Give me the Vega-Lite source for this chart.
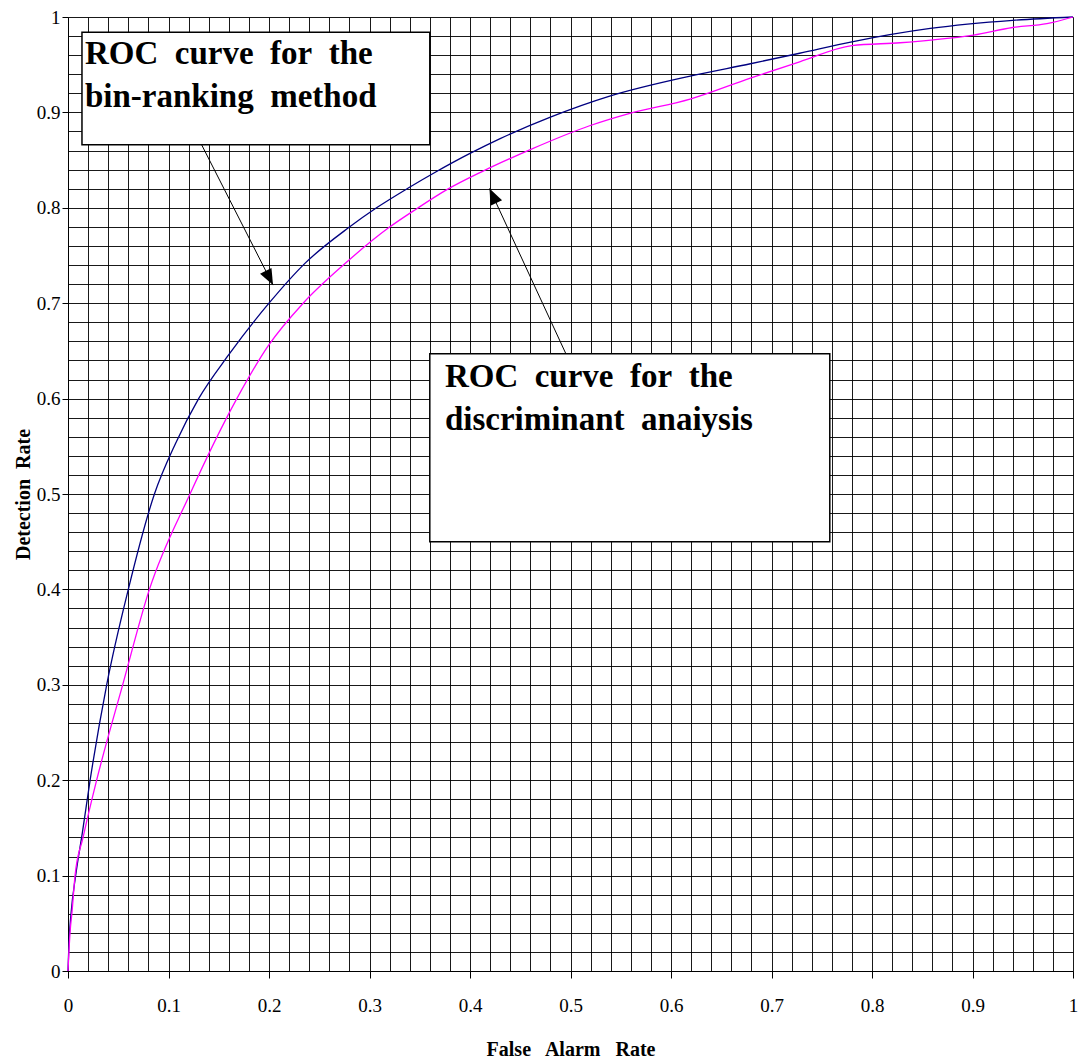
{
  "$schema": "https://vega.github.io/schema/vega-lite/v6.json",
  "width": 1005,
  "height": 954,
  "autosize": "none",
  "padding": {"left": 68, "top": 17, "right": 8, "bottom": 90},
  "background": "white",
  "config": {
    "view": {"stroke": null},
    "axis": {
      "labelFont": "Liberation Serif",
      "labelFontSize": 19,
      "labelColor": "#000",
      "titleFont": "Liberation Serif",
      "titleFontWeight": "bold",
      "titleFontSize": 20,
      "titleColor": "#000",
      "domainColor": "#000",
      "domainWidth": 1,
      "tickColor": "#000",
      "gridColor": "#000",
      "gridOpacity": 0.9,
      "gridWidth": 1,
      "labelOverlap": false,
      "labelBound": false,
      "labelFlush": false
    }
  },
  "datasets": {
    "blue": [
      {"series": "bin-ranking", "x": 0, "y": 0},
      {"series": "bin-ranking", "x": 0.001, "y": 0.03},
      {"series": "bin-ranking", "x": 0.003, "y": 0.06},
      {"series": "bin-ranking", "x": 0.0076, "y": 0.10},
      {"series": "bin-ranking", "x": 0.0143, "y": 0.145},
      {"series": "bin-ranking", "x": 0.022, "y": 0.20},
      {"series": "bin-ranking", "x": 0.0385, "y": 0.30},
      {"series": "bin-ranking", "x": 0.060, "y": 0.40},
      {"series": "bin-ranking", "x": 0.086, "y": 0.50},
      {"series": "bin-ranking", "x": 0.107, "y": 0.553},
      {"series": "bin-ranking", "x": 0.130, "y": 0.600},
      {"series": "bin-ranking", "x": 0.160, "y": 0.646},
      {"series": "bin-ranking", "x": 0.200, "y": 0.700},
      {"series": "bin-ranking", "x": 0.236, "y": 0.742},
      {"series": "bin-ranking", "x": 0.279, "y": 0.779},
      {"series": "bin-ranking", "x": 0.307, "y": 0.800},
      {"series": "bin-ranking", "x": 0.339, "y": 0.821},
      {"series": "bin-ranking", "x": 0.365, "y": 0.837},
      {"series": "bin-ranking", "x": 0.400, "y": 0.857},
      {"series": "bin-ranking", "x": 0.430, "y": 0.8725},
      {"series": "bin-ranking", "x": 0.480, "y": 0.895},
      {"series": "bin-ranking", "x": 0.539, "y": 0.917},
      {"series": "bin-ranking", "x": 0.619, "y": 0.938},
      {"series": "bin-ranking", "x": 0.679, "y": 0.951},
      {"series": "bin-ranking", "x": 0.728, "y": 0.962},
      {"series": "bin-ranking", "x": 0.780, "y": 0.974},
      {"series": "bin-ranking", "x": 0.858, "y": 0.988},
      {"series": "bin-ranking", "x": 0.940, "y": 0.9965},
      {"series": "bin-ranking", "x": 1.0, "y": 1.0}
    ],
    "magenta": [
      {"series": "discriminant", "x": 0, "y": 0},
      {"series": "discriminant", "x": 0.002, "y": 0.04},
      {"series": "discriminant", "x": 0.004, "y": 0.062},
      {"series": "discriminant", "x": 0.007, "y": 0.10},
      {"series": "discriminant", "x": 0.015, "y": 0.14},
      {"series": "discriminant", "x": 0.0285, "y": 0.20},
      {"series": "discriminant", "x": 0.0544, "y": 0.30},
      {"series": "discriminant", "x": 0.081, "y": 0.40},
      {"series": "discriminant", "x": 0.1214, "y": 0.50},
      {"series": "discriminant", "x": 0.168, "y": 0.60},
      {"series": "discriminant", "x": 0.199, "y": 0.655},
      {"series": "discriminant", "x": 0.234, "y": 0.700},
      {"series": "discriminant", "x": 0.274, "y": 0.740},
      {"series": "discriminant", "x": 0.319, "y": 0.779},
      {"series": "discriminant", "x": 0.347, "y": 0.799},
      {"series": "discriminant", "x": 0.377, "y": 0.819},
      {"series": "discriminant", "x": 0.412, "y": 0.838},
      {"series": "discriminant", "x": 0.460, "y": 0.861},
      {"series": "discriminant", "x": 0.519, "y": 0.886},
      {"series": "discriminant", "x": 0.559, "y": 0.899},
      {"series": "discriminant", "x": 0.619, "y": 0.914},
      {"series": "discriminant", "x": 0.679, "y": 0.936},
      {"series": "discriminant", "x": 0.728, "y": 0.953},
      {"series": "discriminant", "x": 0.780, "y": 0.970},
      {"series": "discriminant", "x": 0.828, "y": 0.973},
      {"series": "discriminant", "x": 0.861, "y": 0.976},
      {"series": "discriminant", "x": 0.901, "y": 0.981},
      {"series": "discriminant", "x": 0.940, "y": 0.989},
      {"series": "discriminant", "x": 0.974, "y": 0.993},
      {"series": "discriminant", "x": 1.0, "y": 1.0}
    ],
    "boxes": [
      {"x": 0.0139, "x2": 0.360, "y": 0.984, "y2": 0.866},
      {"x": 0.360, "x2": 0.758, "y": 0.647, "y2": 0.450}
    ],
    "labels": [
      {"x": 0.0169, "y": 0.9507, "text": "ROC\u00a0 curve\u00a0 for\u00a0 the\nbin-ranking\u00a0 method"},
      {"x": 0.375, "y": 0.612, "text": "ROC\u00a0 curve\u00a0 for\u00a0 the\ndiscriminant\u00a0 anaiysis"}
    ],
    "arrows": [
      {"x": 0.133, "y": 0.866, "x2": 0.204, "y2": 0.719},
      {"x": 0.4955, "y": 0.6468, "x2": 0.4194, "y2": 0.8202}
    ],
    "heads": [
      {"x": 0.204, "y": 0.719, "angle": 153},
      {"x": 0.4194, "y": 0.8202, "angle": 335}
    ]
  },
  "encoding": {
    "x": {
      "field": "x",
      "type": "quantitative",
      "scale": {"domain": [0, 1], "nice": false, "zero": false},
      "axis": {
        "title": "False\u00a0\u00a0 Alarm\u00a0\u00a0 Rate",
        "values": [0,0.02,0.04,0.06,0.08,0.1,0.12,0.14,0.16,0.18,0.2,0.22,0.24,0.26,0.28,0.3,0.32,0.34,0.36,0.38,0.4,0.42,0.44,0.46,0.48,0.5,0.52,0.54,0.56,0.58,0.6,0.62,0.64,0.66,0.68,0.7,0.72,0.74,0.76,0.78,0.8,0.82,0.84,0.86,0.88,0.9,0.92,0.94,0.96,0.98,1],
        "grid": true,
        "tickSize": 7,
        "tickOpacity": {"condition": {"test": "abs(datum.value*10 - round(datum.value*10)) < 0.001", "value": 1}, "value": 0},
        "labelExpr": "abs(datum.value*10 - round(datum.value*10)) < 0.001 ? format(datum.value, '~g') : ''",
        "labelPadding": 18,
        "titlePadding": 24
      }
    },
    "y": {
      "field": "y",
      "type": "quantitative",
      "scale": {"domain": [0, 1], "nice": false, "zero": false},
      "axis": {
        "title": "Detection\u00a0 Rate",
        "values": [0,0.02,0.04,0.06,0.08,0.1,0.12,0.14,0.16,0.18,0.2,0.22,0.24,0.26,0.28,0.3,0.32,0.34,0.36,0.38,0.4,0.42,0.44,0.46,0.48,0.5,0.52,0.54,0.56,0.58,0.6,0.62,0.64,0.66,0.68,0.7,0.72,0.74,0.76,0.78,0.8,0.82,0.84,0.86,0.88,0.9,0.92,0.94,0.96,0.98,1],
        "grid": true,
        "tickSize": 6,
        "tickOpacity": {"condition": {"test": "abs(datum.value*10 - round(datum.value*10)) < 0.001", "value": 1}, "value": 0},
        "labelExpr": "abs(datum.value*10 - round(datum.value*10)) < 0.001 ? format(datum.value, '~g') : ''",
        "labelPadding": 2,
        "titlePadding": 3
      }
    }
  },
  "layer": [
    {
      "data": {"name": "blue"},
      "mark": {"type": "line", "strokeWidth": 1.3, "interpolate": "monotone", "color": "#000080"}
    },
    {
      "data": {"name": "magenta"},
      "mark": {"type": "line", "strokeWidth": 1.3, "interpolate": "monotone", "color": "#FF00FF"}
    },
    {
      "data": {"name": "boxes"},
      "mark": {"type": "rect", "fill": "white", "stroke": "#000", "strokeWidth": 1.5},
      "encoding": {
        "x2": {"field": "x2"},
        "y2": {"field": "y2"}
      }
    },
    {
      "data": {"name": "labels"},
      "mark": {"type": "text", "font": "Liberation Serif", "fontWeight": "bold", "fontSize": 33, "align": "left", "baseline": "alphabetic", "lineBreak": "\n", "lineHeight": 43, "color": "#000"},
      "encoding": {
        "text": {"field": "text"}
      }
    },
    {
      "data": {"name": "arrows"},
      "mark": {"type": "rule", "color": "#000", "strokeWidth": 1},
      "encoding": {
        "x2": {"field": "x2"},
        "y2": {"field": "y2"}
      }
    },
    {
      "data": {"name": "heads"},
      "mark": {"type": "point", "shape": "M0,0 L0.8,2 L-0.8,2 Z", "filled": true, "color": "#000", "size": 256, "opacity": 1},
      "encoding": {
        "angle": {"field": "angle", "type": "quantitative", "scale": null}
      }
    }
  ]
}
